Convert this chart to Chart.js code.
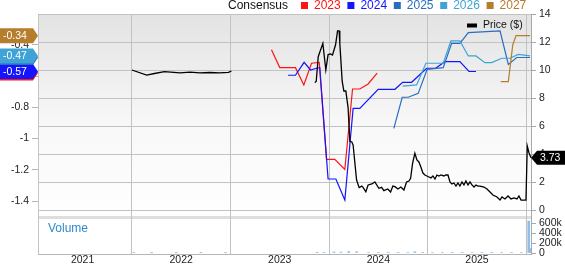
<!DOCTYPE html>
<html>
<head>
<meta charset="utf-8">
<script src="https://cdn.jsdelivr.net/npm/chart.js@4.4.0/dist/chart.umd.min.js"></script>
<style>
  html, body { margin: 0; padding: 0; background: #fff; }
  #caixa { position: relative; width: 565px; height: 264px; }
</style>
</head>
<body>
<div id="caixa"><canvas id="grafico"></canvas></div>
<script>
// eixo x em anos decimais
var anosTicks = [2021, 2022, 2023, 2024, 2025];
var epsTicks = [-1.4, -1.2, -1, -0.8, -0.6, -0.4];
var precoTicks = [0, 2, 4, 6, 8, 10, 12, 14];
var volumeTicks = [0, 200000, 400000, 600000];

// preco ($), null = sem cotacao
var precoAnos = [2021.50, 2021.65, 2021.73, 2021.83, 2021.99, 2022.09, 2022.19, 2022.29, 2022.39, 2022.48, 2022.51, 2022.90,
  2023.355, 2023.37, 2023.39, 2023.437, 2023.467, 2023.49, 2023.515, 2023.535, 2023.566, 2023.586, 2023.602, 2023.609,
  2023.633, 2023.65, 2023.67, 2023.693, 2023.711, 2023.731, 2023.744, 2023.779, 2023.805, 2023.832, 2023.846, 2023.873,
  2023.896, 2023.934, 2023.964, 2024.005, 2024.033, 2024.056, 2024.096, 2024.124, 2024.147, 2024.168, 2024.198, 2024.228,
  2024.259, 2024.286, 2024.31, 2024.327, 2024.347, 2024.37, 2024.391, 2024.411, 2024.431, 2024.452, 2024.472, 2024.492,
  2024.513, 2024.533, 2024.553, 2024.574, 2024.594, 2024.614, 2024.635, 2024.665, 2024.685, 2024.706, 2024.726, 2024.746,
  2024.766, 2024.787, 2024.807, 2024.827, 2024.848, 2024.868, 2024.888, 2024.909, 2024.929, 2024.949, 2024.97, 2024.99,
  2025.01, 2025.03, 2025.071, 2025.102, 2025.132, 2025.162, 2025.203, 2025.234, 2025.254, 2025.284, 2025.315, 2025.345,
  2025.376, 2025.406, 2025.426, 2025.447, 2025.477, 2025.497, 2025.51, 2025.528, 2025.548];
var precos = [10.0, 9.64, 9.75, 9.88, 9.8, 9.85, 9.8, 9.82, 9.8, 9.83, 9.93, null,
  9.1, 9.2, 10.95, 11.9, 10.0, 11.1, 11.15, 11.07, 11.8, 12.8, 12.8, 11.9,
  9.2, 8.5, 8.5, 7.3, 4.9, 4.86, 4.64, 2.14, 1.6, 1.71, 1.6, 1.3,
  1.79, 1.86, 2.0, 1.55, 1.62, 1.38, 1.5, 1.29, 1.71, 1.67, 1.5, 1.64,
  1.43, 2.0, 2.07, 2.26, 3.33, 4.05, 3.57, 3.43, 3.07, 2.64, 2.5, 2.43,
  2.36, 2.29, 2.43, 2.21, 2.5, 2.43, 2.5, 2.43, 2.5, 2.5, 2.0, 1.86,
  1.93, 1.71, 1.93, 1.71, 2.0, 1.79, 2.07, 1.79, 2.0, 1.79, 1.64, 1.79,
  1.71, 1.71, 1.64, 1.5, 1.29, 1.07, 0.93, 0.71, 0.93, 0.79, 1.0, 0.79,
  0.86, 0.79, 1.0, 0.71, 0.71, 0.71, 4.57, 4.07, 3.73];

// consenso de EPS por ano fiscal
var anosConsenso = ['2023', '2024', '2025', '2026', '2027'];
var consenso2023Anos = [2022.916, 2023.0, 2023.159, 2023.244, 2023.322, 2023.40, 2023.474, 2023.558, 2023.66, 2023.738, 2023.812, 2023.896, 2023.988];
var consenso2023 = [-0.43, -0.545, -0.545, -0.656, -0.517, -0.511, -1.133, -1.133, -1.197, -0.682, -0.682, -0.65, -0.58];
var consenso2024Anos = [2023.084, 2023.159, 2023.247, 2023.312, 2023.373, 2023.406, 2023.49, 2023.569, 2023.66, 2023.744, 2023.812,
  2023.998, 2024.168, 2024.246, 2024.337, 2024.489, 2024.581, 2024.675, 2024.827, 2024.919, 2024.99];
var consenso2024 = [-0.594, -0.594, -0.511, -0.56, -0.549, -0.545, -1.259, -1.259, -1.394, -0.806, -0.806,
  -0.684, -0.684, -0.639, -0.639, -0.549, -0.549, -0.507, -0.507, -0.57, -0.57];
var consenso2025Anos = [2024.157, 2024.242, 2024.303, 2024.404, 2024.495, 2024.658, 2024.743, 2024.827, 2024.912, 2025.234, 2025.318, 2025.403, 2025.538];
var consenso2025 = [-0.934, -0.735, -0.735, -0.71, -0.556, -0.545, -0.389, -0.389, -0.321, -0.31, -0.524, -0.48, -0.48];
var consenso2026Anos = [2024.246, 2024.388, 2024.482, 2024.658, 2024.736, 2024.827, 2024.912, 2024.99, 2025.081, 2025.149, 2025.251, 2025.335, 2025.419, 2025.538];
var consenso2026 = [-0.663, -0.656, -0.517, -0.517, -0.374, -0.374, -0.47, -0.47, -0.513, -0.513, -0.485, -0.485, -0.46, -0.47];
var consenso2027Anos = [2025.241, 2025.318, 2025.363, 2025.396, 2025.538];
var consenso2027 = [-0.635, -0.635, -0.4, -0.34, -0.34];

// volume
var volumeAnos = [2021.52, 2021.7, 2021.95, 2022.2, 2022.45, 2023.38, 2023.45, 2023.55, 2023.62, 2023.7, 2023.78, 2023.9,
  2024.0, 2024.1, 2024.2, 2024.3, 2024.37, 2024.45, 2024.55, 2024.65, 2024.75, 2024.85, 2024.95, 2025.05,
  2025.15, 2025.25, 2025.35, 2025.45, 2025.525, 2025.54];
var volumes = [6000, 4000, 3000, 5000, 4000, 15000, 12000, 20000, 18000, 30000, 25000, 10000,
  8000, 12000, 9000, 11000, 25000, 14000, 10000, 9000, 12000, 8000, 10000, 9000,
  7000, 11000, 8000, 9000, 640000, 90000];

var coresConsenso = ['#ff1414', '#1414ff', '#2a6cbf', '#3fa3d6', '#b57d2c'];
var fonte = "'Liberation Sans', Arial, sans-serif";

function pares(xs, ys) {
    return xs.map(function (x, i) { return { x: x, y: ys[i] }; });
}

function fixarTicks(lista) {
    return function (escala) {
        escala.ticks = lista.map(function (v) { return { value: v }; });
    };
}

function etiquetaEsquerda(ctx, cy, cor, texto) {
    ctx.beginPath();
    ctx.moveTo(0, cy - 7.5);
    ctx.lineTo(33, cy - 7.5);
    ctx.lineTo(38, cy);
    ctx.lineTo(33, cy + 7.5);
    ctx.lineTo(0, cy + 7.5);
    ctx.closePath();
    ctx.fillStyle = cor;
    ctx.fill();
    ctx.fillStyle = '#fff';
    ctx.font = '10.5px ' + fonte;
    ctx.textAlign = 'left';
    ctx.textBaseline = 'middle';
    ctx.fillText(texto, 3, cy + 0.5);
}

var decoracao = {
    id: 'decoracao',
    beforeDraw: function (chart) {
        var ctx = chart.ctx;
        var area = chart.chartArea;
        var yp = chart.scales.yPrice;
        var yv = chart.scales.yVol;
        var g = ctx.createLinearGradient(0, yp.top, 0, yp.bottom);
        g.addColorStop(0, '#e3e3e3');
        g.addColorStop(0.55, '#f8f8f8');
        g.addColorStop(1, '#ffffff');
        ctx.save();
        ctx.fillStyle = g;
        ctx.fillRect(area.left, yp.top, area.right - area.left, yp.bottom - yp.top);
        ctx.fillStyle = '#dedede';
        ctx.fillRect(area.left + 1, yv.top - 2, area.right - area.left - 1, 3);
        ctx.restore();
    },
    beforeDatasetsDraw: function (chart) {
        var ctx = chart.ctx;
        var area = chart.chartArea;
        var yp = chart.scales.yPrice;
        ctx.save();
        // linhas horizontais da grade de preco
        ctx.fillStyle = '#c2c2c2';
        for (var i = 0; i < precoTicks.length; i++) {
            var y = Math.round(yp.getPixelForValue(precoTicks[i]));
            ctx.fillRect(area.left, y, area.right - area.left, 1);
        }
        ctx.fillStyle = '#2f88c9';
        ctx.font = '12px ' + fonte;
        ctx.textBaseline = 'middle';
        ctx.fillText('Volume', 48, 229);
        ctx.restore();
    },
    afterDraw: function (chart) {
        var ctx = chart.ctx;
        ctx.save();
        // legenda do topo
        ctx.font = '12px ' + fonte;
        ctx.textBaseline = 'middle';
        ctx.textAlign = 'left';
        ctx.fillStyle = '#111';
        ctx.fillText('Consensus', 228, 6);
        for (var i = 0; i < anosConsenso.length; i++) {
            var sx = 301 + i * 46.4;
            ctx.fillStyle = coresConsenso[i];
            ctx.fillRect(sx, 2, 7, 7);
            ctx.fillText(anosConsenso[i], sx + 13, 6);
        }
        // legenda do preco
        ctx.fillStyle = '#000';
        ctx.fillRect(467, 23.5, 10, 4);
        ctx.fillStyle = '#111';
        ctx.font = '10.5px ' + fonte;
        ctx.fillText('Price ($)', 483, 25.5);

        // etiquetas de ultimo valor
        var ye = chart.scales.yEps;
        var series = [consenso2023, consenso2024, consenso2025, consenso2026, consenso2027];
        series.forEach(function (s, k) {
            var v = s[s.length - 1];
            etiquetaEsquerda(ctx, ye.getPixelForValue(v), coresConsenso[k], v.toFixed(2));
        });

        var yp = chart.scales.yPrice;
        var ultimo = precos[precos.length - 1];
        var cy = yp.getPixelForValue(ultimo);
        ctx.beginPath();
        ctx.moveTo(531, cy);
        ctx.lineTo(537, cy - 7);
        ctx.lineTo(565, cy - 7);
        ctx.lineTo(565, cy + 7);
        ctx.lineTo(537, cy + 7);
        ctx.closePath();
        ctx.fillStyle = '#000';
        ctx.fill();
        ctx.fillStyle = '#fff';
        ctx.font = '10.5px ' + fonte;
        ctx.fillText(ultimo.toFixed(2), 540, cy + 0.5);
        ctx.restore();
    }
};

function linha(label, xs, ys, cor, eixo, largura) {
    return {
        type: 'line',
        label: label,
        data: pares(xs, ys),
        borderColor: cor,
        borderWidth: largura,
        pointRadius: 0,
        tension: 0,
        spanGaps: false,
        yAxisID: eixo
    };
}

function desenhar() {
    Chart.defaults.font.family = fonte;
    Chart.defaults.font.size = 10.5;
    Chart.defaults.color = '#222';

    var datasets = [
        linha('Price ($)', precoAnos, precos, '#000', 'yPrice', 1.3),
        linha('2027', consenso2027Anos, consenso2027, coresConsenso[4], 'yEps', 1.2),
        linha('2026', consenso2026Anos, consenso2026, coresConsenso[3], 'yEps', 1.2),
        linha('2025', consenso2025Anos, consenso2025, coresConsenso[2], 'yEps', 1.2),
        linha('2024', consenso2024Anos, consenso2024, coresConsenso[1], 'yEps', 1.2),
        linha('2023', consenso2023Anos, consenso2023, coresConsenso[0], 'yEps', 1.2),
        {
            type: 'bar',
            label: 'Volume',
            data: pares(volumeAnos, volumes),
            backgroundColor: '#8fbfe8',
            barThickness: 2,
            grouped: false,
            yAxisID: 'yVol'
        }
    ];

    var config = {
        type: 'line',
        data: { datasets: datasets },
        options: {
            responsive: true,
            maintainAspectRatio: false,
            animation: false,
            devicePixelRatio: 1,
            layout: { padding: { top: 14, left: 0, right: 0, bottom: 0 } },
            plugins: { legend: { display: false }, tooltip: { enabled: false } },
            scales: {
                x: {
                    type: 'linear',
                    min: 2020.548,
                    max: 2025.548,
                    offset: false,
                    afterBuildTicks: fixarTicks(anosTicks),
                    afterFit: function (s) { s.height = 10; },
                    ticks: { padding: 0, autoSkip: false, maxRotation: 0, callback: function (v) { return String(v); } },
                    grid: { color: '#c2c2c2', drawTicks: false },
                    border: { color: '#b5b5b5' }
                },
                yEps: {
                    position: 'left',
                    min: -1.7397,
                    max: -0.2013,
                    afterBuildTicks: fixarTicks(epsTicks),
                    afterFit: function (s) { s.width = 38; },
                    ticks: { padding: 3, autoSkip: false, callback: function (v) { return String(Math.round(v * 10) / 10); } },
                    grid: { drawOnChartArea: false, tickLength: 6, color: '#b5b5b5' },
                    border: { color: '#c4c4c4' }
                },
                yPrice: {
                    position: 'right',
                    stack: 'direita',
                    stackWeight: 204,
                    min: -0.571,
                    max: 14,
                    afterBuildTicks: fixarTicks(precoTicks),
                    afterFit: function (s) { s.width = 34; },
                    ticks: { padding: 3, autoSkip: false },
                    grid: { drawOnChartArea: false, tickLength: 5, color: '#a8a8a8' },
                    border: { color: '#a8a8a8' }
                },
                yVol: {
                    position: 'right',
                    stack: 'direita',
                    stackWeight: 36,
                    min: -20000,
                    max: 700000,
                    afterBuildTicks: fixarTicks(volumeTicks),
                    afterFit: function (s) { s.width = 34; },
                    ticks: { padding: 3, autoSkip: false, callback: function (v) { return v === 0 ? '0' : (v / 1000) + 'k'; } },
                    grid: { drawOnChartArea: false, tickLength: 5, color: '#a8a8a8' },
                    border: { color: '#a8a8a8' }
                }
            }
        },
        plugins: [decoracao]
    };

    var ctx = document.getElementById('grafico').getContext('2d');
    var grafico = new Chart(ctx, config);
}

window.addEventListener('load', desenhar);
</script>
</body>
</html>
